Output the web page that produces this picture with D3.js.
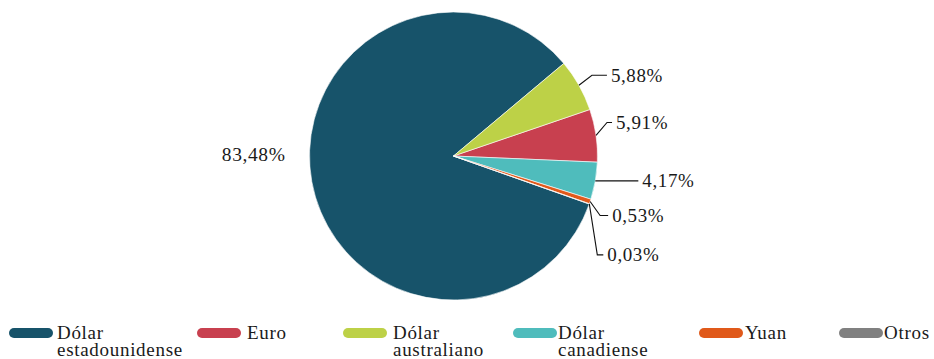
<!DOCTYPE html>
<html>
<head>
<meta charset="utf-8">
<script src="https://cdn.jsdelivr.net/npm/d3@7"></script>
<style>
  html, body { margin: 0; padding: 0; background: #fff; }
  svg { display: block; }
  text { font-family: "Liberation Serif", "Times New Roman", serif; fill: #1a1a1a; }
</style>
</head>
<body>
<svg id="chart" width="934" height="359"></svg>
<script>
// Currency composition (percent share)
const categories = ["Dólar estadounidense", "Euro", "Dólar australiano", "Dólar canadiense", "Yuan", "Otros"];
const shares = [83.48, 5.91, 5.88, 4.17, 0.53, 0.03];
const valueLabels = ["83,48%", "5,91%", "5,88%", "4,17%", "0,53%", "0,03%"];
const colors = ["#17536a", "#c8404f", "#bdd147", "#4fbcbc", "#e0591a", "#808080"];
// clockwise drawing order of the slices
const sliceOrder = ["Dólar estadounidense", "Dólar australiano", "Euro", "Dólar canadiense", "Yuan", "Otros"];
const legendLines = [["Dólar", "estadounidense"], ["Euro"], ["Dólar", "australiano"], ["Dólar", "canadiense"], ["Yuan"], ["Otros"]];

const rows = categories.map((c, i) => ({ name: c, value: shares[i], label: valueLabels[i], color: colors[i] }));

const svg = d3.select("#chart");
const cx = 453.5, cy = 156, R = 144;
const g = svg.append("g").attr("transform", `translate(${cx},${cy})`);

const toRad = d => d * Math.PI / 180;
const total = d3.sum(shares);
// the dominant slice closes at about 50° past twelve o'clock
const firstEnd = toRad(50);
const start = firstEnd - 2 * Math.PI * (shares[0] / total);

const pie = d3.pie()
  .value(d => d.value)
  .sort((a, b) => sliceOrder.indexOf(a.name) - sliceOrder.indexOf(b.name))
  .startAngle(start)
  .endAngle(start + 2 * Math.PI);

const arcs = pie(rows);
const arc = d3.arc().innerRadius(0).outerRadius(R);

g.selectAll("path.slice")
  .data(arcs)
  .join("path")
  .attr("class", "slice")
  .attr("d", arc)
  .attr("fill", d => d.data.color)
  .attr("stroke", "#fff")
  .attr("stroke-width", 0.6);

// Leader-line layout for the small slices: elbow offset from the rim point, then horizontal run
const leader = {
  "Dólar australiano": [13, -10, 15],
  "Euro": [11, -13, 5],
  "Dólar canadiense": [0, 0, 43],
  "Yuan": [10, 14, 8],
  "Otros": [8, 51, 6]
};

arcs.forEach(a => {
  const name = a.data.name;
  const mid = (a.startAngle + a.endAngle) / 2;
  if (leader[name]) {
    const [edx, edy, run] = leader[name];
    const p0 = [R * Math.sin(mid), -R * Math.cos(mid)];
    const p1 = [p0[0] + edx, p0[1] + edy];
    const p2 = [p1[0] + run, p1[1]];
    g.append("polyline")
      .attr("points", [p0, p1, p2].map(p => p.join(",")).join(" "))
      .attr("fill", "none")
      .attr("stroke", "#111")
      .attr("stroke-width", 1.1);
    g.append("text")
      .attr("x", p2[0] + 4)
      .attr("y", p2[1] + 2)
      .attr("dominant-baseline", "middle")
      .style("font-size", "19px")
      .style("letter-spacing", "0.6px")
      .text(a.data.label);
  } else {
    g.append("text")
      .attr("x", -R - 24)
      .attr("y", 1)
      .attr("text-anchor", "end")
      .attr("dominant-baseline", "middle")
      .style("font-size", "19.5px")
      .style("letter-spacing", "0.6px")
      .text(a.data.label);
  }
});

// Legend along the bottom
const legendX = [9, 197, 343, 513, 699, 839];
const textGap = [4, 6, 6, 1, 2, 1];
const legend = svg.append("g").attr("transform", "translate(0,333)");
rows.forEach((r, i) => {
  const item = legend.append("g").attr("transform", `translate(${legendX[i]},0)`);
  item.append("rect")
    .attr("x", 0).attr("y", -5)
    .attr("width", 44).attr("height", 10)
    .attr("rx", 5).attr("ry", 5)
    .attr("fill", r.color);
  const t = item.append("text")
    .attr("x", 44 + textGap[i])
    .attr("y", 6)
    .style("font-size", "19px")
    .style("letter-spacing", "0.7px");
  legendLines[i].forEach((ln, j) => {
    t.append("tspan").attr("x", 44 + textGap[i]).attr("dy", j === 0 ? 0 : 17).text(ln);
  });
});
</script>
</body>
</html>
